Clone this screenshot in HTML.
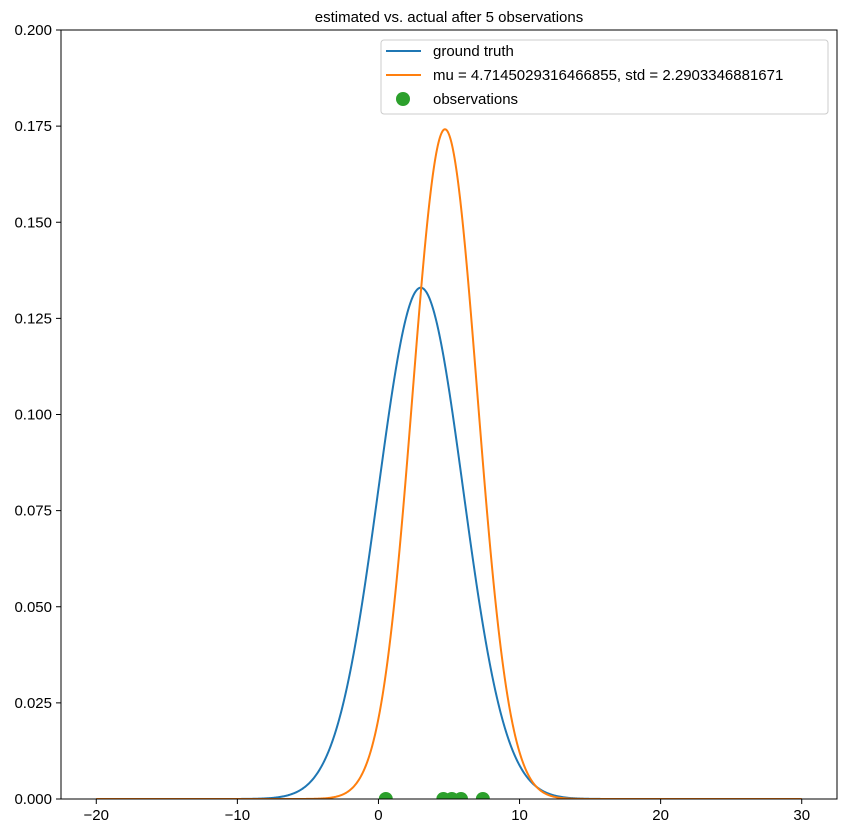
<!DOCTYPE html>
<html><head><meta charset="utf-8"><style>
body{margin:0;background:#fff}
svg text{font-family:"Liberation Sans",Arial,sans-serif;fill:#000}
</style></head><body>
<svg id="c" width="846" height="835" xmlns="http://www.w3.org/2000/svg"></svg>
<script>
const curveNames = ["ground truth", "mu = 4.7145029316466855, std = 2.2903346881671"];
const curveMu = [3.0, 4.7145029316466855];
const curveStd = [3.0, 2.2903346881671];
const curveColors = ["#1f77b4", "#ff7f0e"];
const observations = [0.52, 4.6, 5.2, 5.85, 7.4];
const xTicks = [-20, -10, 0, 10, 20, 30];
const yTicks = [0, 0.025, 0.05, 0.075, 0.1, 0.125, 0.15, 0.175, 0.2];
const yTickLabels = ["0.000","0.025","0.050","0.075","0.100","0.125","0.150","0.175","0.200"];

const L=61,R=837,T=30,B=799;
const xMin=-22.5,xMax=32.5,yMin=0,yMax=0.2;
const X=v=>L+(v-xMin)/(xMax-xMin)*(R-L);
const Y=v=>B-(v-yMin)/(yMax-yMin)*(B-T);
const svg=document.getElementById('c');
const NS="http://www.w3.org/2000/svg";
function mk(tag,attrs,parent){const e=document.createElementNS(NS,tag);for(const k in attrs)e.setAttribute(k,attrs[k]);(parent||svg).appendChild(e);return e;}

const clip=mk('clipPath',{id:'pc'});mk('rect',{x:L,y:T,width:R-L,height:B-T},clip);

curveMu.forEach((mu,i)=>{
  const sd=curveStd[i];let d="";
  for(let k=0;k<=1000;k++){const x=-20+50*k/1000;const y=Math.exp(-0.5*((x-mu)/sd)**2)/(sd*Math.sqrt(2*Math.PI));d+=(k?"L":"M")+X(x).toFixed(2)+","+Y(y).toFixed(2);}
  const p=mk('path',{d,fill:'none',stroke:curveColors[i],'stroke-width':2,'clip-path':'url(#pc)'});
  
  
});
observations.forEach(v=>{
  const c=mk('circle',{cx:X(v),cy:Y(0),r:7,fill:'#2ca02c','clip-path':'url(#pc)'});
  
  
});
const frame=mk('rect',{x:L,y:T,width:R-L,height:B-T,fill:'none',stroke:'#000','stroke-width':1});



xTicks.forEach(v=>{
  mk('line',{x1:X(v),x2:X(v),y1:B,y2:B+5,stroke:'#000'});
  const t=mk('text',{x:X(v),y:B+21,'text-anchor':'middle','font-size':15});t.textContent=v<0?"\u2212"+(-v):v;
  
  
});
yTicks.forEach((v,i)=>{
  mk('line',{x1:L-5,x2:L,y1:Y(v),y2:Y(v),stroke:'#000'});
  const t=mk('text',{x:L-9,y:Y(v)+5,'text-anchor':'end','font-size':15});t.textContent=yTickLabels[i];
  
  
});
const title=mk('text',{x:(L+R)/2,y:22,'text-anchor':'middle','font-size':15});title.textContent="estimated vs. actual after 5 observations";



const lg=mk('g',{});


mk('rect',{x:381,y:40,width:447,height:74,rx:3,fill:'#fff','fill-opacity':0.8,stroke:'#ccc'},lg);
const labels=[curveNames[0],curveNames[1],"observations"];
labels.forEach((s,i)=>{
  const y=51+i*24;
  if(i<2) mk('line',{x1:386,x2:421,y1:y,y2:y,stroke:curveColors[i],'stroke-width':2},lg);
  else mk('circle',{cx:403,cy:y,r:7,fill:'#2ca02c'},lg);
  const t=mk('text',{x:433,y:y+5,'font-size':15},lg);t.textContent=s;
  
  
});
</script>
</body></html>
